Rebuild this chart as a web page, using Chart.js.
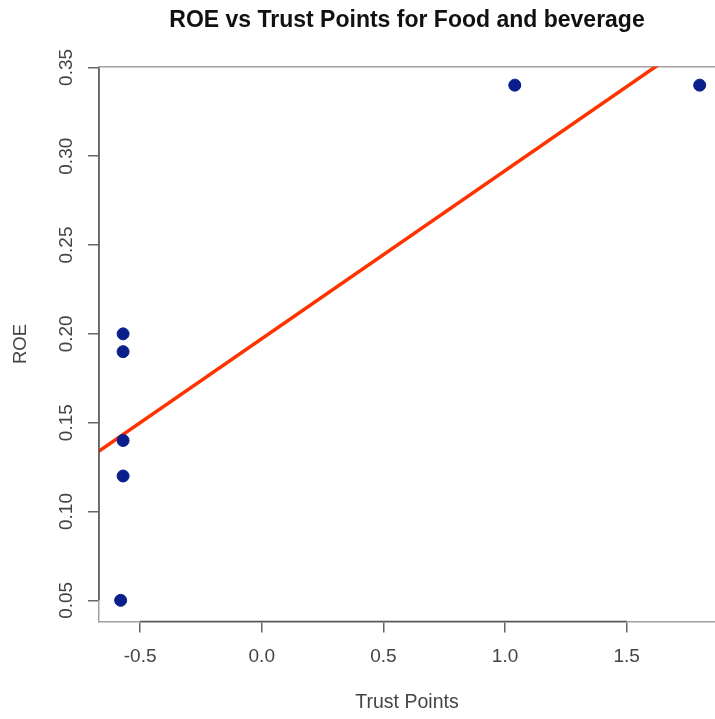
<!DOCTYPE html>
<html>
<head>
<meta charset="utf-8">
<script src="https://cdn.jsdelivr.net/npm/chart.js@4.4.1/dist/chart.umd.min.js"></script>
<style>
  html, body { margin: 0; padding: 0; background: #ffffff; }
  canvas { display: block; }
</style>
</head>
<body>
<canvas id="roe-chart" width="715" height="719"></canvas>
<script>
// data
const trustPoints = [-0.57, -0.57, -0.57, -0.57, -0.58, 1.04, 1.80];
const roe = [0.20, 0.19, 0.14, 0.12, 0.05, 0.34, 0.34];
// fitted line end points (abline, clipped to the plot box)
const fitX = [-0.70, 1.90];
const fitY = [0.131, 0.377];
const xTicks = [-0.5, 0.0, 0.5, 1.0, 1.5];
const yTicks = [0.05, 0.10, 0.15, 0.20, 0.25, 0.30, 0.35];

const FONT = "'Liberation Sans', Arial, Helvetica, sans-serif";

// darker axis line between first and last tick, like R's axis()
const axisSegments = {
  id: "axisSegments",
  afterDraw(chart) {
    const { ctx, chartArea, scales } = chart;
    ctx.save();
    ctx.strokeStyle = "#555555";
    ctx.lineWidth = 1.5;
    ctx.beginPath();
    ctx.moveTo(scales.x.getPixelForValue(xTicks[0]), chartArea.bottom);
    ctx.lineTo(scales.x.getPixelForValue(xTicks[xTicks.length - 1]), chartArea.bottom);
    ctx.moveTo(chartArea.left, scales.y.getPixelForValue(yTicks[0]));
    ctx.lineTo(chartArea.left, scales.y.getPixelForValue(yTicks[yTicks.length - 1]));
    ctx.stroke();
    ctx.restore();
  },
};

// keep the plot box where R put it, no extra label padding
function noPad(s) {
  s.paddingLeft = 0;
  s.paddingRight = 0;
  s.paddingTop = 0;
  s.paddingBottom = 0;
}

let points = trustPoints.map((x, i) => ({ x: x, y: roe[i] }));
let fitLine = fitX.map((x, i) => ({ x: x, y: fitY[i] }));

let ctx = document.getElementById("roe-chart").getContext("2d");
let roeChart = new Chart(ctx, {
  type: "scatter",
  data: {
    datasets: [
      {
        label: "ROE",
        data: points,
        backgroundColor: "#0a1e8c",
        borderColor: "#0a1e8c",
        pointRadius: 6,
        pointHoverRadius: 6,
      },
      {
        type: "line",
        label: "fit",
        data: fitLine,
        borderColor: "#ff3300",
        borderWidth: 3.5,
        pointRadius: 0,
        fill: false,
      },
    ],
  },
  options: {
    responsive: false,
    animation: false,
    devicePixelRatio: 1,
    layout: { padding: 0, autoPadding: false },
    plugins: {
      legend: { display: false },
      tooltip: { enabled: false },
    },
    scales: {
      x: {
        type: "linear",
        position: "bottom",
        min: -0.669,
        max: 1.863,
        afterFit: (s) => { s.height = 97.5; noPad(s); },
        grid: {
          drawOnChartArea: false,
          tickLength: 11,
          tickColor: "#666666",
          lineWidth: 1.5,
        },
        border: { color: "#a0a0a0", width: 1.5 },
        ticks: {
          stepSize: 0.5,
          includeBounds: false,
          autoSkip: false,
          maxRotation: 0,
          padding: 13,
          color: "#444444",
          font: { family: FONT, size: 19 },
          callback: (v) => v.toFixed(1),
        },
        title: {
          display: true,
          text: "Trust Points",
          color: "#444444",
          font: { family: FONT, size: 19.5 },
          padding: { top: 0, bottom: 5 },
        },
      },
      x2: {
        type: "linear",
        position: "top",
        min: -0.669,
        max: 1.863,
        afterFit: (s) => { s.height = 66.5; noPad(s); },
        grid: { display: false },
        border: { color: "#a0a0a0", width: 1.5 },
        ticks: { display: false },
        title: {
          display: true,
          text: "ROE vs Trust Points for Food and beverage",
          color: "#111111",
          font: { family: FONT, size: 23, weight: "bold" },
          padding: { top: 7, bottom: 0 },
        },
      },
      y: {
        type: "linear",
        position: "left",
        min: 0.0381,
        max: 0.3505,
        afterFit: (s) => { s.width = 99; noPad(s); },
        grid: {
          drawOnChartArea: false,
          tickLength: 11,
          tickColor: "#666666",
          lineWidth: 1.5,
        },
        border: { color: "#a0a0a0", width: 1.5 },
        ticks: {
          stepSize: 0.05,
          includeBounds: false,
          autoSkip: false,
          minRotation: 90,
          maxRotation: 90,
          crossAlign: "center",
          padding: 3,
          color: "#444444",
          font: { family: FONT, size: 19 },
          callback: (v) => v.toFixed(2),
        },
        title: {
          display: true,
          text: "ROE",
          color: "#444444",
          font: { family: FONT, size: 18.5 },
          padding: { top: 10, bottom: 0 },
        },
      },
    },
  },
  plugins: [axisSegments],
});
</script>
</body>
</html>
